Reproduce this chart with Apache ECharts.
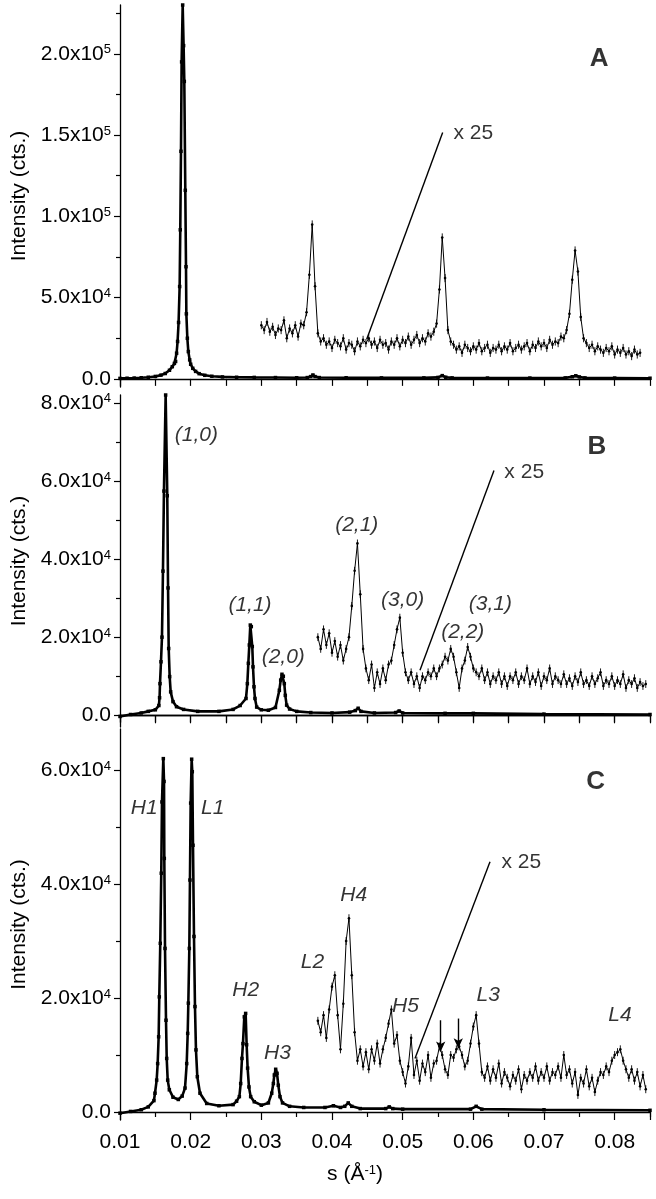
<!DOCTYPE html>
<html>
<head>
<meta charset="utf-8">
<title>Intensity vs s, panels A-C</title>
<script src="https://cdn.jsdelivr.net/npm/echarts@6/dist/echarts.min.js"></script>
<style>
  html, body { margin: 0; padding: 0; background: #fff; }
  #chart { width: 656px; height: 1199px; }
</style>
</head>
<body>
<div id="chart"></div>
<script>
// s range shared by all three panels (1/Angstrom), intensities in 10^3 cts
const sMin = 0.01;
const sMax = 0.085;
const xTickValues = [0.01, 0.02, 0.03, 0.04, 0.05, 0.06, 0.07, 0.08];
const xTickLabels = ['0.01', '0.02', '0.03', '0.04', '0.05', '0.06', '0.07', '0.08'];

// ---------- panel A ----------
const yTicksA = [0, 50, 100, 150, 200];
const yTickLabelsA = ['0.0', '5.0x10{e|4}', '1.0x10{e|5}', '1.5x10{e|5}', '2.0x10{e|5}'];
const yMinorA = [25, 75, 125, 175, 225];
const mainA = [
  [0.0100, 0.3], [0.0110, 0.4], [0.0120, 0.5], [0.0130, 0.7], [0.0140, 1.0], [0.0150, 1.5],
  [0.0158, 2.3], [0.0164, 3.3], [0.0170, 5.3], [0.0174, 7.5], [0.0177, 9.5], [0.01787, 10.7],
  [0.01801, 15.8], [0.01815, 23], [0.01829, 34.7], [0.01844, 56.8], [0.01853, 91.7], [0.01863, 140],
  [0.01872, 195], [0.01887, 230], [0.0190, 205], [0.0191, 183], [0.01924, 116], [0.01934, 69],
  [0.01939, 40], [0.01953, 25], [0.01967, 16.8], [0.01986, 11.7], [0.0200, 9], [0.0203, 6.5],
  [0.0207, 4.6], [0.0212, 3.2], [0.0220, 2.2], [0.0230, 1.6], [0.0245, 1.2], [0.0265, 1.0],
  [0.0290, 0.9], [0.0320, 0.8], [0.0350, 0.7], [0.0365, 0.8], [0.0370, 1.4], [0.0373, 2.4],
  [0.0376, 1.4], [0.0382, 0.8], [0.0420, 0.7], [0.0470, 0.6], [0.0530, 0.6], [0.0550, 0.9],
  [0.0556, 2.0], [0.0561, 1.0], [0.0570, 0.6], [0.0620, 0.5], [0.0680, 0.5], [0.0730, 0.6],
  [0.0740, 1.3], [0.0745, 1.9], [0.0750, 1.2], [0.0758, 0.6], [0.0800, 0.5], [0.0850, 0.4]
];
// x25 trace, measured every 0.0004 from 0.0300
const x25StartA = 0.0300;
const x25A = [
  33, 30, 35, 29, 32, 27, 31, 30, 36, 25, 31, 28, 33, 26, 34, 33, 41, 64, 95, 57,
  28, 23, 25, 21, 23, 19, 24, 22, 20, 25, 18, 22, 21, 17, 23, 20, 24, 22, 25, 21,
  23, 19, 24, 21, 22, 18, 23, 21, 25, 20, 24, 22, 26, 21, 24, 27, 22, 25, 23, 28,
  26, 29, 34, 55, 87, 62, 30, 23, 21, 18, 20, 16, 21, 19, 17, 20, 18, 22, 17, 19,
  21, 16, 19, 18, 21, 17, 20, 18, 22, 17, 19, 21, 18, 20, 22, 17, 21, 19, 23, 20,
  22, 19, 24, 21, 23, 22, 26, 25, 30, 40, 61, 79, 66, 38, 25, 22, 19, 21, 17, 20,
  18, 16, 19, 17, 20, 15, 18, 16, 19, 15, 17, 14, 18, 15, 16
];
const errA = 2.5;
const notesA = [{ text: 'x 25', s: 0.0600, v: 151.4 }];
const pointerA = [[0.05566, 151.6], [0.04491, 24.4]];
const letterA = [{ text: 'A', s: 0.0778, v: 197 }];

// ---------- panel B ----------
const yTicksB = [0, 20, 40, 60, 80];
const yTickLabelsB = ['0.0', '2.0x10{e|4}', '4.0x10{e|4}', '6.0x10{e|4}', '8.0x10{e|4}'];
const yMinorB = [10, 30, 50, 70];
const mainB = [
  [0.0100, -0.3], [0.0115, 0.2], [0.0130, 0.6], [0.0140, 1.0], [0.0150, 1.4], [0.0155, 2.5],
  [0.0156, 4.5], [0.01566, 8.1], [0.0158, 13.7], [0.01594, 20], [0.01608, 36.9], [0.01622, 57.4],
  [0.01646, 82], [0.01669, 56.2], [0.0168, 32.6], [0.01689, 17.1], [0.01703, 9.9], [0.01717, 6],
  [0.0175, 3.5], [0.0180, 2.2], [0.0190, 1.5], [0.0210, 1.0], [0.0240, 1.0], [0.0260, 1.5],
  [0.0270, 2.5], [0.02783, 4.3], [0.02802, 8.1], [0.02816, 13.3], [0.0283, 18], [0.02844, 23.1],
  [0.02858, 22.7], [0.02872, 17.6], [0.02882, 12.4], [0.02896, 7.3], [0.0291, 4.3], [0.02934, 2.1],
  [0.0300, 1.4], [0.0310, 1.3], [0.0320, 2.0], [0.03255, 6.4], [0.03274, 9], [0.03292, 10.5],
  [0.03311, 10], [0.03325, 8.1], [0.03339, 5.1], [0.03358, 2.6], [0.0340, 1.6], [0.0350, 1.0],
  [0.0370, 0.7], [0.0400, 0.6], [0.0425, 0.8], [0.0433, 1.2], [0.0437, 1.8], [0.0441, 1.0],
  [0.0460, 0.6], [0.0490, 0.7], [0.0495, 1.1], [0.0500, 0.6], [0.0560, 0.5], [0.0600, 0.5],
  [0.0700, 0.3], [0.0850, 0.2]
];
const x25StartB = 0.0380;
const x25B = [
  20, 17, 22, 18, 21, 16, 19, 15, 18, 14, 17, 20, 28, 37, 44, 31, 17, 12, 9, 13,
  7, 11, 8, 12, 9, 13, 14, 18, 22, 25, 16, 11, 9, 11, 8, 10, 7, 10, 9, 11,
  10, 12, 10, 12, 13, 15, 14, 17, 15, 11, 7, 12, 14, 17.5, 15, 12, 11, 10, 12, 9,
  11, 8, 10, 9, 11, 8, 10, 7.5, 10, 9, 11, 8, 10, 9, 12, 8, 10, 8.5, 11, 7.5,
  10, 9, 12, 8, 10, 9, 8, 10.5, 8, 9.5, 7.5, 10, 8.5, 11, 8, 9, 7.5, 10, 8, 9.5,
  11, 7.5, 9, 8, 10, 7.5, 9, 8, 10.5, 7, 9, 8, 9.5, 7, 8.5, 7.5, 8
];
const errB = 1.0;
const peaksB = [
  { text: '(1,0)', s: 0.0208, v: 71.8 }, { text: '(1,1)', s: 0.0284, v: 28.2 },
  { text: '(2,0)', s: 0.0331, v: 14.9 }, { text: '(2,1)', s: 0.0435, v: 48.7 },
  { text: '(3,0)', s: 0.0500, v: 29.5 }, { text: '(2,2)', s: 0.0585, v: 21.3 },
  { text: '(3,1)', s: 0.0624, v: 28.5 }
];
const notesB = [{ text: 'x 25', s: 0.0672, v: 62.2 }];
const pointerB = [[0.06292, 62.7], [0.05245, 11.5]];
const letterB = [{ text: 'B', s: 0.0775, v: 68.8 }];

// ---------- panel C ----------
const yTicksC = [0, 20, 40, 60];
const yTickLabelsC = ['0.0', '2.0x10{e|4}', '4.0x10{e|4}', '6.0x10{e|4}'];
const yMinorC = [10, 30, 50];
const mainC = [
  [0.0100, -0.2], [0.0115, 0.1], [0.0130, 0.4], [0.0140, 0.9], [0.0148, 2.0], [0.01495, 3.3],
  [0.01519, 5.6], [0.01533, 8.5], [0.01547, 13.2], [0.01556, 20.2], [0.0157, 29.6], [0.01584, 41.9],
  [0.01594, 54.4], [0.01613, 62], [0.01623, 58], [0.01627, 44.5], [0.01637, 28.7], [0.01651, 16.1],
  [0.01661, 9.4], [0.01675, 5.6], [0.01698, 3.9], [0.0175, 2.6], [0.01825, 2.2], [0.0188, 2.8],
  [0.0192, 4.2], [0.01944, 8.5], [0.01958, 13.8], [0.01967, 19.1], [0.01981, 28.7], [0.0199, 40.7],
  [0.0200, 54.2], [0.02014, 61.9], [0.02023, 59.7], [0.02033, 46.8], [0.02047, 30.8], [0.02061, 18.5],
  [0.02075, 10.9], [0.02094, 6.2], [0.02132, 3.3], [0.02227, 1.5], [0.0240, 1.1], [0.0260, 1.3],
  [0.0265, 1.9], [0.02689, 2.7], [0.02708, 5], [0.02726, 9.4], [0.0274, 12], [0.02759, 16.7],
  [0.02778, 17.3], [0.02792, 11.8], [0.02806, 7.7], [0.02825, 4.4], [0.02849, 2.7], [0.0290, 1.8],
  [0.0300, 1.2], [0.0310, 1.6], [0.03147, 3.3], [0.0317, 5], [0.03184, 6.5], [0.03203, 7.5],
  [0.03222, 6.8], [0.0324, 4.7], [0.03264, 2.7], [0.0330, 1.6], [0.0340, 1.0], [0.0360, 0.8],
  [0.0390, 0.8], [0.0402, 1.1], [0.0412, 0.8], [0.0418, 1.0], [0.0423, 1.6], [0.0428, 1.0],
  [0.0440, 0.6], [0.0476, 0.6], [0.0481, 0.9], [0.0486, 0.6], [0.0500, 0.5], [0.0596, 0.5],
  [0.0604, 1.0], [0.0612, 0.5], [0.0700, 0.4], [0.0850, 0.3]
];
const x25StartC = 0.0380;
const x25C = [
  16, 14, 17, 13, 18, 22, 24, 17, 11, 19, 30, 34, 24, 14, 9, 11, 8, 10.5, 7.5, 11,
  9, 12, 8.5, 11, 13, 15.5, 18, 12, 13.5, 9, 7, 5, 8, 13, 6.5, 9, 5.5, 8.5, 7, 10,
  6, 8.5, 9, 11.5, 10, 7.5, 6.5, 10, 9.5, 11, 11.5, 10, 8, 9, 12, 15, 17, 12, 7, 6,
  8, 5.5, 7.5, 6, 8.5, 5, 7, 6, 4.5, 6.5, 5.5, 7.5, 4, 6.5, 5.5, 7, 6, 8, 5.5, 7,
  6, 8, 5.5, 7, 6.5, 8, 6, 10, 6.5, 7.5, 5, 7, 3, 6, 5, 7.5, 4.5, 6, 3.5, 5.5,
  7, 6.5, 8, 7, 9, 10, 10.5, 11, 9, 7.5, 6, 7.5, 5.5, 7, 4.5, 6.5, 4
];
const errC = 0.7;
const peaksC = [
  { text: 'H1', s: 0.01342, v: 53.3 }, { text: 'L1', s: 0.02312, v: 53.3 },
  { text: 'H2', s: 0.0278, v: 21.3 }, { text: 'H3', s: 0.03229, v: 10.4 },
  { text: 'L2', s: 0.03724, v: 26.3 }, { text: 'H4', s: 0.04307, v: 38.1 },
  { text: 'H5', s: 0.0504, v: 18.5 }, { text: 'L3', s: 0.0621, v: 20.5 },
  { text: 'L4', s: 0.08075, v: 17.0 }
];
const notesC = [{ text: 'x 25', s: 0.0668, v: 43.9 }];
const pointerC = [[0.06236, 43.9], [0.05174, 9.4]];
const arrowsC = [[0.05538, 16.1, 10.6], [0.05787, 16.4, 11.2]];
const letterC = [{ text: 'C', s: 0.0773, v: 57.9 }];

const x25Step = 0.0004;

const FONT = '"Liberation Sans", Arial, Helvetica, sans-serif';
const INK = '#000';

function gridPairs(start, vals, err) {
  return vals.map((v, i) => [+(start + i * x25Step).toFixed(5), v, err]);
}

const panels = [
  { top: 5, height: 382, yMin: -5, yMax: 230, ticks: yTicksA, tickLabels: yTickLabelsA, minor: yMinorA,
    main: mainA, x25: gridPairs(x25StartA, x25A, errA), peaks: [], notes: notesA, pointer: pointerA, arrows: [], letter: letterA },
  { top: 395, height: 332, yMin: -3, yMax: 82, ticks: yTicksB, tickLabels: yTickLabelsB, minor: yMinorB,
    main: mainB, x25: gridPairs(x25StartB, x25B, errB), peaks: peaksB, notes: notesB, pointer: pointerB, arrows: [], letter: letterB },
  { top: 729, height: 391, yMin: -1.4, yMax: 67.2, ticks: yTicksC, tickLabels: yTickLabelsC, minor: yMinorC,
    main: mainC, x25: gridPairs(x25StartC, x25C, errC), peaks: peaksC, notes: notesC, pointer: pointerC, arrows: arrowsC, letter: letterC }
];

const supRich = { e: { fontSize: 13, fontFamily: FONT, color: INK, verticalAlign: 'top', lineHeight: 14 } };

const grids = panels.map(p => ({ left: 120, right: 6, top: p.top, height: p.height }));

// x axes: bottom of A, bottom + top of B, bottom of C (the labelled one)
const xAxes = [];
const xIndexOf = [];
panels.forEach((p, i) => {
  const last = i === panels.length - 1;
  xIndexOf.push(xAxes.length);
  xAxes.push({
    type: 'value', gridIndex: i, min: sMin, max: sMax, position: 'bottom',
    interval: last ? 0.01 : 0.005,
    splitLine: { show: false },
    axisLine: { lineStyle: { color: INK, width: 1.3 } },
    axisTick: { inside: false, length: last ? 8 : 7, lineStyle: { color: INK, width: 1.2 } },
    minorTick: { show: last, splitNumber: 2, length: 5, lineStyle: { color: INK, width: 1.2 } },
    axisLabel: {
      show: last, margin: 12, fontSize: 21, fontFamily: FONT, color: INK,
      formatter: v => xTickLabels[xTickValues.findIndex(t => Math.abs(t - v) < 1e-6)] || ''
    },
    name: last ? 's (\u00C5{e|-1})' : '',
    nameLocation: 'middle', nameGap: 44,
    nameTextStyle: { fontSize: 21, fontFamily: FONT, color: INK, padding: [0, 60, 0, 0], rich: supRich }
  });
  if (i === 1) {
    xAxes.push({
      type: 'value', gridIndex: i, min: sMin, max: sMax, position: 'top', interval: 0.005,
      splitLine: { show: false },
      axisLine: { lineStyle: { color: INK, width: 1.3 } },
      axisTick: { inside: true, length: 8, lineStyle: { color: INK, width: 1.2 } },
      axisLabel: { show: false }
    });
  }
});

// y axes: a labelled one plus a bare one carrying the minor ticks
const yAxes = [];
const yIndexOf = [];
panels.forEach((p, i) => {
  yIndexOf.push(yAxes.length);
  yAxes.push({
    type: 'value', gridIndex: i, min: p.yMin, max: p.yMax, position: 'left',
    splitLine: { show: false },
    axisLine: { lineStyle: { color: INK, width: 1.3 } },
    axisTick: { inside: false, length: 6, customValues: p.ticks, lineStyle: { color: INK, width: 1.2 } },
    axisLabel: {
      margin: 9, fontSize: 21, fontFamily: FONT, color: INK, customValues: p.ticks,
      formatter: v => p.tickLabels[p.ticks.indexOf(v)] || '', rich: supRich
    },
    name: 'Intensity (cts.)', nameLocation: 'middle', nameGap: 90,
    nameTextStyle: { fontSize: 21, fontFamily: FONT, color: INK }
  });
  yAxes.push({
    type: 'value', gridIndex: i, min: p.yMin, max: p.yMax, position: 'left',
    splitLine: { show: false }, axisLine: { show: false },
    axisTick: { inside: false, length: 4, customValues: p.minor, lineStyle: { color: INK, width: 1.2 } },
    axisLabel: { show: false }
  });
});

function textSeries(i, items, style) {
  return {
    type: 'scatter', xAxisIndex: xIndexOf[i], yAxisIndex: yIndexOf[i], silent: true,
    symbolSize: 1, itemStyle: { color: 'rgba(0,0,0,0)' }, z: 6,
    data: items.map(t => [t.s, t.v, t.text]),
    label: Object.assign({ show: true, position: 'inside', color: INK, fontFamily: FONT,
      formatter: q => q.data[2] }, style)
  };
}

const series = [];
panels.forEach((p, i) => {
  const xi = xIndexOf[i], yi = yIndexOf[i];
  series.push({
    type: 'line', xAxisIndex: xi, yAxisIndex: yi, data: p.main,
    symbol: 'rect', symbolSize: 3.5, showAllSymbol: true,
    lineStyle: { color: INK, width: 2.6 }, itemStyle: { color: INK }, z: 4
  });
  series.push({
    type: 'line', xAxisIndex: xi, yAxisIndex: yi, data: p.x25.map(d => [d[0], d[1]]),
    symbol: 'circle', symbolSize: 2.6, showAllSymbol: true,
    lineStyle: { color: INK, width: 1 }, itemStyle: { color: INK }, z: 4
  });
  series.push({
    type: 'custom', xAxisIndex: xi, yAxisIndex: yi, data: p.x25, silent: true, z: 3,
    encode: { x: 0, y: 1 },
    renderItem: (params, api) => {
      const s = api.value(0), v = api.value(1), e = api.value(2);
      const lo = api.coord([s, v - e]);
      const hi = api.coord([s, v + e]);
      return { type: 'line', shape: { x1: lo[0], y1: lo[1], x2: hi[0], y2: hi[1] },
        style: { stroke: INK, lineWidth: 0.9 } };
    }
  });
  const lines = [[{ coord: p.pointer[0] }, { coord: p.pointer[1] }]];
  p.arrows.forEach(a => lines.push([
    { coord: [a[0], a[1]], symbol: 'none' },
    { coord: [a[0], a[2]], symbol: 'arrow', symbolSize: [7, 10] }
  ]));
  const notes = textSeries(i, p.notes, { fontSize: 21 });
  notes.markLine = {
    silent: true, symbol: 'none', label: { show: false },
    lineStyle: { color: INK, width: 1.4, type: 'solid' }, data: lines
  };
  series.push(notes);
  series.push(textSeries(i, p.peaks, { fontSize: 21, fontStyle: 'italic' }));
  series.push(textSeries(i, p.letter, { fontSize: 26, fontWeight: 'bold' }));
});

const chart = echarts.init(document.getElementById('chart'));
chart.setOption({
  animation: false,
  backgroundColor: '#fff',
  textStyle: { fontFamily: FONT },
  grid: grids,
  xAxis: xAxes,
  yAxis: yAxes,
  series: series
});
</script>
</body>
</html>
